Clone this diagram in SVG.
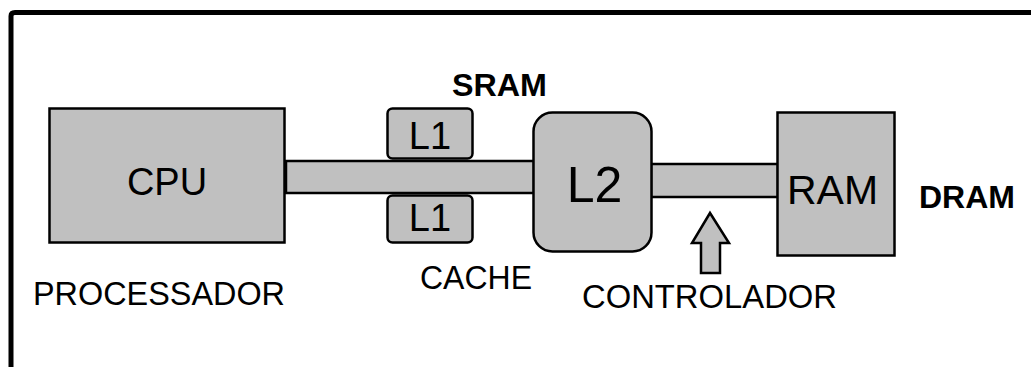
<svg xmlns="http://www.w3.org/2000/svg" width="1031" height="367" viewBox="0 0 1031 367">
<style>
.box{fill:#c0c0c0;stroke:#000;stroke-width:2.5}
.t{font-family:"Liberation Sans",Arial,sans-serif;fill:#000}
.b{font-weight:bold}
</style>
<rect width="1031" height="367" fill="#fff"/>
<path d="M11,372 V16 Q11,12.5 15,12.5 H1040" fill="none" stroke="#000" stroke-width="5"/>
<g id="connectors">
<rect class="box" x="286" y="161" width="248" height="32"/>
<rect class="box" x="651" y="164" width="127" height="33"/>
<path class="box" d="M701,273 V243 H692 L710,213 L729,243 H720 V273 Z"/>
</g>
<g id="cpu">
<rect class="box" x="49.5" y="108.5" width="235" height="134"/>
<text class="t" x="167" y="195" font-size="38" text-anchor="middle">CPU</text>
</g>
<g id="l1-top">
<rect class="box" x="387.5" y="108.5" width="85" height="50" rx="5"/>
<text class="t" x="430" y="149" font-size="38" text-anchor="middle">L1</text>
</g>
<g id="l1-bottom">
<rect class="box" x="387.5" y="195.5" width="85" height="47" rx="5"/>
<text class="t" x="430" y="231" font-size="38" text-anchor="middle">L1</text>
</g>
<g id="l2">
<rect class="box" x="533.5" y="112.5" width="118" height="139" rx="19"/>
<text class="t" x="594.5" y="202" font-size="50" text-anchor="middle">L2</text>
</g>
<g id="ram">
<rect class="box" x="777.5" y="112.5" width="117" height="143"/>
<text class="t" x="832.5" y="204" font-size="41" text-anchor="middle">RAM</text>
</g>
<g id="labels">
<text class="t" x="33" y="305" font-size="33" textLength="252" lengthAdjust="spacingAndGlyphs">PROCESSADOR</text>
<text class="t b" x="452" y="96" font-size="32" textLength="95" lengthAdjust="spacingAndGlyphs">SRAM</text>
<text class="t" x="420" y="289" font-size="33" textLength="112" lengthAdjust="spacingAndGlyphs">CACHE</text>
<text class="t" x="582" y="308" font-size="33" textLength="255" lengthAdjust="spacingAndGlyphs">CONTROLADOR</text>
<text class="t b" x="919" y="208" font-size="32" textLength="96" lengthAdjust="spacingAndGlyphs">DRAM</text>
</g>
</svg>
